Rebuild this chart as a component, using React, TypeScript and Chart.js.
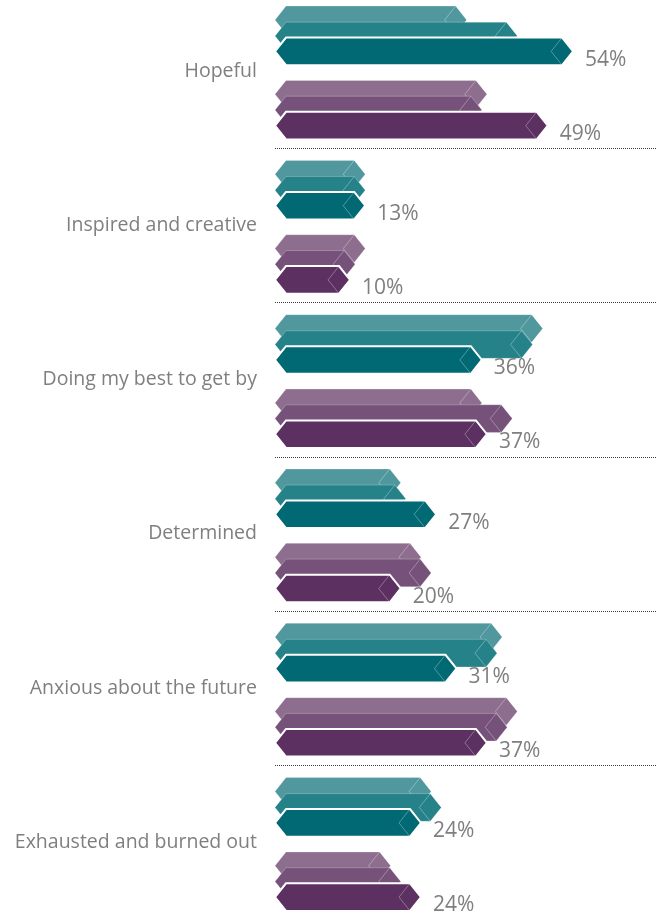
import React, { useEffect, useRef } from "react";
import { Chart, registerables } from "chart.js";

Chart.register(...registerables);

// ---- data ----
const categories = [
  "Hopeful",
  "Inspired and creative",
  "Doing my best to get by",
  "Determined",
  "Anxious about the future",
  "Exhausted and burned out",
];
const tealBack = [33, 13, 48, 20, 40, 26];
const tealMid = [43, 13, 46, 21, 39, 28];
const tealFront = [54, 13, 36, 27, 31, 24];
const purpleBack = [37, 13, 36, 24, 43, 18];
const purpleMid = [36, 11, 42, 26, 41, 20];
const purpleFront = [49, 10, 37, 20, 37, 24];

// ---- layout / style ----
const SERIES = [tealBack, tealMid, tealFront, purpleBack, purpleMid, purpleFront];
const COLORS = ["#50989e", "#268289", "#006973", "#8e6e8e", "#76527a", "#5c3060"];
const FRONT = [false, false, true, false, false, true];
const OFFSETS = [0.169, 0.273, 0.373, 0.651, 0.753, 0.854];
const X_MIN = -4.8;
const X_MAX = 70.35;
const Y_MIN = 0.04;
const Y_MAX = 5.983;
const TAPER = 11;
const TEXT_COLOR = "#7f7f82";
const W = 656;
const H = 917;

const hexPlugin = {
  id: "hexBars",
  beforeDatasetsDraw(chart: any) {
    const ctx = chart.ctx;
    const ys = chart.scales.y;
    const area = chart.chartArea;
    ctx.save();
    ctx.strokeStyle = "#3a3a3a";
    ctx.lineWidth = 1;
    ctx.setLineDash([1, 1]);
    for (let i = 1; i < categories.length; i++) {
      const y = Math.round(ys.getPixelForValue(i)) + 0.5;
      ctx.beginPath();
      ctx.moveTo(area.left, y);
      ctx.lineTo(area.right, y);
      ctx.stroke();
    }
    ctx.restore();
  },
  afterDatasetsDraw(chart: any) {
    const ctx = chart.ctx;
    ctx.save();
    chart.data.datasets.forEach((ds: any, di: number) => {
      const meta = chart.getDatasetMeta(di);
      meta.data.forEach((el: any, i: number) => {
        const { x, y, base, height } = el.getProps(["x", "y", "base", "height"], true);
        const top = y - height / 2;
        const bot = y + height / 2;
        const t = TAPER;
        ctx.beginPath();
        ctx.moveTo(base, y);
        ctx.lineTo(base + t, top);
        ctx.lineTo(x - t, top);
        ctx.lineTo(x, y);
        ctx.lineTo(x - t, bot);
        ctx.lineTo(base + t, bot);
        ctx.closePath();
        ctx.fillStyle = COLORS[di];
        ctx.fill();
        ctx.lineJoin = "miter";
        if (FRONT[di]) {
          ctx.strokeStyle = "#ffffff";
          ctx.lineWidth = 2;
        } else {
          ctx.strokeStyle = "rgba(255,255,255,0.3)";
          ctx.lineWidth = 0.8;
        }
        ctx.stroke();
        // inner chevron
        ctx.beginPath();
        ctx.moveTo(x - t, top);
        ctx.lineTo(x - 2 * t, y);
        ctx.lineTo(x - t, bot);
        ctx.strokeStyle = "rgba(255,255,255,0.4)";
        ctx.lineWidth = 0.8;
        ctx.stroke();
      });
    });
    // value labels on front bars
    ctx.fillStyle = TEXT_COLOR;
    ctx.font = '21px "Open Sans"';
    ctx.textAlign = "left";
    ctx.textBaseline = "alphabetic";
    chart.data.datasets.forEach((ds: any, di: number) => {
      if (!FRONT[di]) return;
      const meta = chart.getDatasetMeta(di);
      meta.data.forEach((el: any, i: number) => {
        const { x, y } = el.getProps(["x", "y"], true);
        ctx.fillText(`${SERIES[di][i]}%`, x + 12, y + 14.3);
      });
    });
    ctx.restore();
  },
};

export default function App() {
  const ref = useRef<HTMLCanvasElement | null>(null);
  useEffect(() => {
    if (!ref.current) return;
    const chart = new Chart(ref.current, {
      type: "bar",
      data: {
        datasets: SERIES.map((vals, di) => ({
          label: `s${di}`,
          data: vals.map((v, i) => ({ x: v, y: i + OFFSETS[di] })),
          backgroundColor: "rgba(0,0,0,0)",
          borderWidth: 0,
          grouped: false,
          barThickness: 27.6,
          base: X_MIN,
        })),
      } as any,
      options: {
        indexAxis: "y",
        animation: false,
        responsive: false,
        layout: { padding: 0 },
        plugins: { legend: { display: false }, tooltip: { enabled: false } },
        scales: {
          x: { type: "linear", min: X_MIN, max: X_MAX, display: false, offset: false },
          y: {
            type: "linear",
            min: Y_MIN,
            max: Y_MAX,
            reverse: true,
            offset: false,
            grid: { display: false, drawTicks: false, offset: false },
            border: { display: false },
            afterBuildTicks: (scale: any) => {
              scale.ticks = categories.map((_, i) => ({ value: i + 0.5 }));
            },
            afterFit: (scale: any) => {
              scale.width = 275;
              scale.paddingTop = 0;
              scale.paddingBottom = 0;
            },
            ticks: {
              autoSkip: false,
              padding: 18,
              color: TEXT_COLOR,
              font: { family: "Open Sans", size: 19.5 },
              callback: (_v: any, i: number) => categories[i],
            },
          },
        },
      } as any,
      plugins: [hexPlugin],
    });
    return () => chart.destroy();
  }, []);
  return (
    <div style={{ position: "absolute", left: 0, top: 0, width: W, height: H, background: "#fff" }}>
      <canvas ref={ref} width={W} height={H} />
    </div>
  );
}
